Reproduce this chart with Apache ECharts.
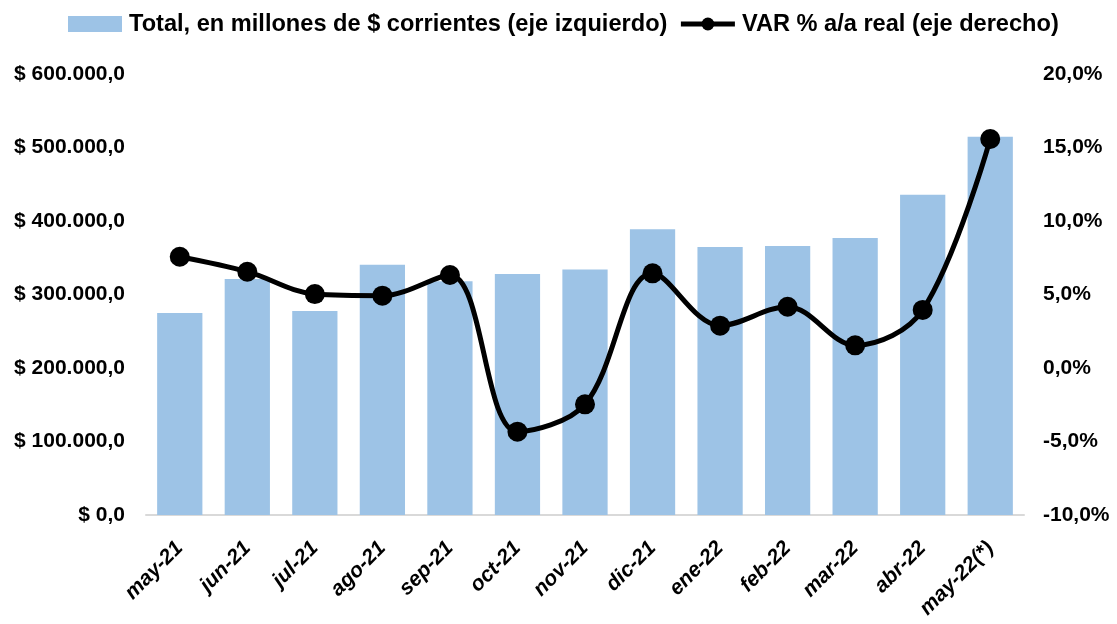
<!DOCTYPE html>
<html>
<head>
<meta charset="utf-8">
<script src="https://cdn.jsdelivr.net/npm/echarts@6/dist/echarts.min.js"></script>
<style>
  html, body { margin: 0; padding: 0; background: #fff; }
  #chart { width: 1117px; height: 624px; }
</style>
</head>
<body>
<div id="chart"></div>
<script>
// datos
var meses = ["may-21", "jun-21", "jul-21", "ago-21", "sep-21", "oct-21", "nov-21", "dic-21", "ene-22", "feb-22", "mar-22", "abr-22", "may-22(*)"];
var total = [274800, 321000, 277600, 340500, 318000, 328000, 334000, 388700, 364600, 366000, 377000, 435800, 514700];
var varReal = [7.57, 6.55, 5.03, 4.92, 6.33, -4.33, -2.47, 6.44, 2.88, 4.17, 1.54, 3.95, 15.58];

var fuente = "Liberation Sans";

function pesos(v) {
  var s = Math.round(v).toString().replace(/\B(?=(\d{3})+(?!\d))/g, ".");
  return "$ " + s + ",0";
}
function pct(v) {
  return v.toFixed(1).replace(".", ",") + "%";
}

var myChart = echarts.init(document.getElementById("chart"));
var option = {
  animation: false,
  textStyle: { fontFamily: fuente },
  legend: {
    top: 12,
    left: 68,
    padding: 0,
    itemGap: 11,
    itemWidth: 54,
    itemHeight: 16,
    selectedMode: false,
    textStyle: { fontFamily: fuente, fontWeight: "bold", fontSize: 23.6, color: "#000", padding: [0, 0, 0, 2] },
    data: [
      { name: "Total, en millones de $ corrientes (eje izquierdo)", icon: "rect" },
      { name: "VAR % a/a real (eje derecho)", lineStyle: { width: 5 } }
    ]
  },
  grid: {
    left: 146,
    right: 93,
    top: 74,
    bottom: 109,
    containLabel: false
  },
  xAxis: {
    type: "category",
    data: meses,
    axisTick: { show: false },
    axisLine: { lineStyle: { color: "#d9d9d9", width: 2 } },
    axisLabel: {
      rotate: 45,
      interval: 0,
      margin: 30,
      color: "#000",
      fontFamily: fuente,
      fontSize: 21,
      fontWeight: "bold",
      fontStyle: "italic"
    }
  },
  yAxis: [
    {
      type: "value",
      min: 0,
      max: 600000,
      interval: 100000,
      splitLine: { show: false },
      axisLine: { show: false },
      axisTick: { show: false },
      axisLabel: {
        margin: 21,
        color: "#000",
        fontFamily: fuente,
        fontSize: 21,
        fontWeight: "bold",
        formatter: pesos
      }
    },
    {
      type: "value",
      min: -10,
      max: 20,
      interval: 5,
      splitLine: { show: false },
      axisLine: { show: false },
      axisTick: { show: false },
      axisLabel: {
        margin: 19,
        color: "#000",
        fontFamily: fuente,
        fontSize: 21,
        fontWeight: "bold",
        formatter: pct
      }
    }
  ],
  series: [
    {
      name: "Total, en millones de $ corrientes (eje izquierdo)",
      type: "bar",
      yAxisIndex: 0,
      data: total,
      barCategoryGap: "33%",
      itemStyle: { color: "#9dc3e6" }
    },
    {
      name: "VAR % a/a real (eje derecho)",
      type: "line",
      yAxisIndex: 1,
      data: varReal,
      smooth: 0.35,
      symbol: "circle",
      symbolSize: 20,
      lineStyle: { color: "#000", width: 5 },
      itemStyle: { color: "#000" }
    }
  ]
};
myChart.setOption(option);
</script>
</body>
</html>
